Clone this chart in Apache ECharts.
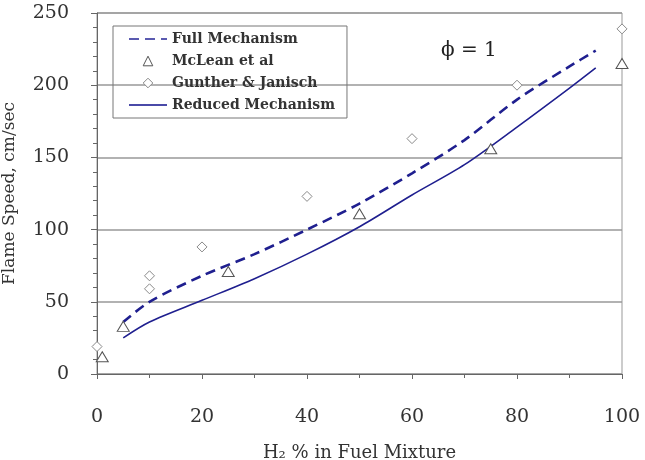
<!DOCTYPE html>
<html>
<head>
<meta charset="utf-8">
<script src="https://cdn.jsdelivr.net/npm/echarts@6/dist/echarts.min.js"></script>
<style>
  html, body { margin: 0; padding: 0; background: #fff; }
  #chart { width: 645px; height: 460px; }
</style>
</head>
<body>
<div id="chart"></div>
<script>
// model curves (H2 % vs flame speed)
const modelX = [5, 10, 20, 30, 40, 50, 60, 70, 80, 90, 95];
const fullMech = [36, 50, 68, 83, 100, 118, 139, 162, 190, 213, 224];
const reducedMech = [25, 36, 51, 66, 83, 102, 124, 145, 171, 198, 212];

// experimental points
const mcleanX = [1, 5, 25, 50, 75, 100];
const mcleanY = [12, 33, 71, 111, 156, 215];
const guntherX = [0, 10, 10, 20, 40, 60, 80, 100];
const guntherY = [19, 59, 68, 88, 123, 163, 200, 239];

const pairs = (xs, ys) => xs.map((x, i) => [x, ys[i]]);

const serif = 'DejaVu Serif';
const lineColor = '#1f1f8f';

const chart = echarts.init(document.getElementById('chart'));

chart.setOption({
  animation: false,
  textStyle: { fontFamily: serif },
  grid: {
    left: 97, right: 23, top: 13, bottom: 86,
    outerBoundsMode: 'none',
    show: true, borderColor: '#999', borderWidth: 1
  },
  title: {
    text: 'ϕ = 1',
    left: 436, top: 36,
    textStyle: { fontFamily: serif, fontSize: 20, fontWeight: 'normal', color: '#222' }
  },
  legend: {
    orient: 'vertical',
    left: 113, top: 26,
    padding: [6, 12, 6, 15],
    borderColor: '#777', borderWidth: 1,
    itemWidth: 38, itemHeight: 12, itemGap: 8, itemTextGap: 10,
    textStyle: { fontFamily: serif, fontSize: 14, lineHeight: 14, fontWeight: 'bold', color: '#333' },
    data: [
      { name: 'Full Mechanism', itemStyle: { opacity: 0 }, lineStyle: { color: '#5a5ab0' } },
      { name: 'McLean et al', itemStyle: { borderWidth: 1 } },
      { name: 'Gunther & Janisch', itemStyle: { borderWidth: 1 } },
      { name: 'Reduced Mechanism', itemStyle: { opacity: 0 }, lineStyle: { color: '#4a4aa8' } }
    ]
  },
  xAxis: {
    type: 'value', min: 0, max: 100, interval: 20,
    name: 'H₂ % in Fuel Mixture', nameLocation: 'middle', nameGap: 70,
    nameTextStyle: { fontFamily: serif, fontSize: 18, color: '#333' },
    axisLine: { lineStyle: { color: '#666' } },
    axisTick: { length: 5, lineStyle: { color: '#666' } },
    minorTick: { show: true, splitNumber: 2, length: 4, lineStyle: { color: '#666' } },
    axisLabel: { fontFamily: serif, fontSize: 19, color: '#333', margin: 34 },
    splitLine: { show: false }
  },
  yAxis: {
    type: 'value', min: 0, max: 250, interval: 50,
    name: 'Flame Speed, cm/sec', nameLocation: 'middle', nameGap: 79,
    nameTextStyle: { fontFamily: serif, fontSize: 17, color: '#333' },
    axisLine: { show: true, lineStyle: { color: '#666' } },
    axisTick: { show: true, length: 6, lineStyle: { color: '#666' } },
    minorTick: { show: true, splitNumber: 5, length: 4, lineStyle: { color: '#666' } },
    axisLabel: { fontFamily: serif, fontSize: 19, color: '#333', margin: 28 },
    splitLine: { show: true, lineStyle: { color: '#999', width: 1.5 } }
  },
  series: [
    {
      name: 'Full Mechanism', type: 'line', smooth: 0.3,
      symbol: 'none',
      data: pairs(modelX, fullMech),
      lineStyle: { color: lineColor, width: 2.6, type: [10, 6] },
      itemStyle: { color: lineColor }
    },
    {
      name: 'McLean et al', type: 'line',
      symbol: 'triangle', symbolSize: [12, 10], showSymbol: true,
      data: pairs(mcleanX, mcleanY),
      lineStyle: { width: 0, opacity: 0 },
      itemStyle: { color: '#fff', borderColor: '#555', borderWidth: 1 },
      z: 3
    },
    {
      name: 'Gunther & Janisch', type: 'line',
      symbol: 'diamond', symbolSize: [10, 10], showSymbol: true,
      data: pairs(guntherX, guntherY),
      lineStyle: { width: 0, opacity: 0 },
      itemStyle: { color: '#fff', borderColor: '#888', borderWidth: 1 },
      z: 3
    },
    {
      name: 'Reduced Mechanism', type: 'line', smooth: 0.3,
      symbol: 'none',
      data: pairs(modelX, reducedMech),
      lineStyle: { color: lineColor, width: 1.6 },
      itemStyle: { color: lineColor }
    }
  ]
});
</script>
</body>
</html>
